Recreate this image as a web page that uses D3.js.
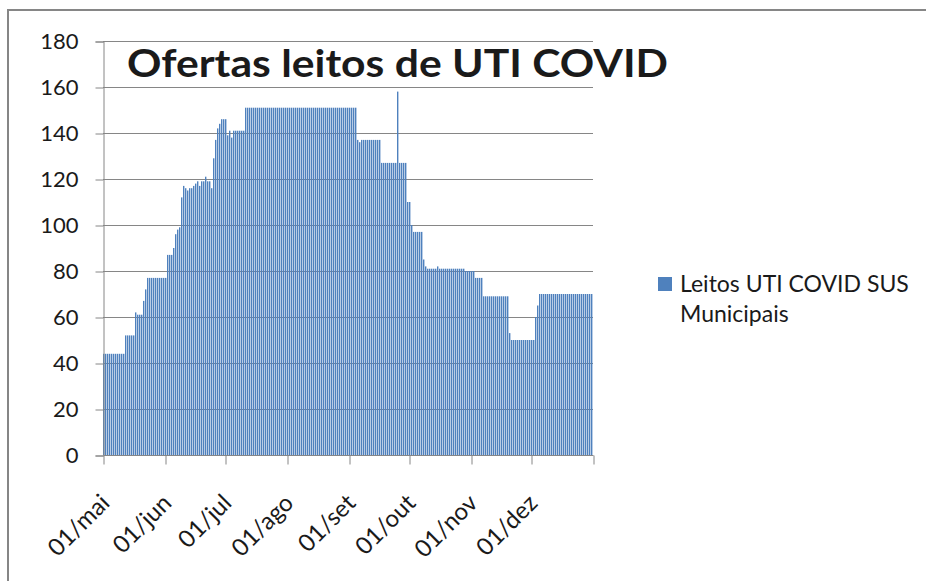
<!DOCTYPE html>
<html>
<head>
<meta charset="utf-8">
<script src="https://cdn.jsdelivr.net/npm/d3@7"></script>
<style>
  body { margin: 0; background: #fff; }
  text { font-family: Lato, "Open Sans", sans-serif; fill: #1a1a1a; }
</style>
</head>
<body>
<svg id="chart" width="926" height="581"></svg>
<script>
// leitos UTI COVID SUS municipais, um valor por dia de 01/mai a 31/dez
const leitos = [
  44, 44, 44, 44, 44, 44, 44, 44, 44, 44, 44, 52, 52, 52, 52,
  52, 62, 61, 61, 61, 67, 72, 77, 77, 77, 77, 77, 77, 77, 77,
  77, 77, 87, 87, 87, 90, 96, 98, 99, 112, 117, 116, 115, 116, 116,
  117, 118, 119, 117, 119, 119, 121, 119, 119, 116, 129, 137, 142, 144, 146,
  146, 146, 139, 141, 138, 141, 141, 141, 141, 141, 141, 151, 151, 151, 151,
  151, 151, 151, 151, 151, 151, 151, 151, 151, 151, 151, 151, 151, 151, 151,
  151, 151, 151, 151, 151, 151, 151, 151, 151, 151, 151, 151, 151, 151, 151,
  151, 151, 151, 151, 151, 151, 151, 151, 151, 151, 151, 151, 151, 151, 151,
  151, 151, 151, 151, 151, 151, 151, 137, 136, 137, 137, 137, 137, 137, 137,
  137, 137, 137, 137, 127, 127, 127, 127, 127, 127, 127, 127, 158, 127, 127,
  127, 127, 110, 110, 100, 97, 97, 97, 97, 97, 85, 82, 81, 81, 81,
  81, 81, 82, 81, 81, 81, 81, 81, 81, 81, 81, 81, 81, 81, 81,
  81, 80, 80, 80, 80, 80, 77, 77, 77, 77, 69, 69, 69, 69, 69,
  69, 69, 69, 69, 69, 69, 69, 69, 53, 50, 50, 50, 50, 50, 50,
  50, 50, 50, 50, 50, 50, 60, 65, 70, 70, 70, 70, 70, 70, 70,
  70, 70, 70, 70, 70, 70, 70, 70, 70, 70, 70, 70, 70, 70, 70,
  70, 70, 70, 70, 70
];
const inicio = new Date(Date.UTC(2020, 4, 1));
const fim = new Date(Date.UTC(2021, 0, 1));
const dias = d3.utcDay.range(inicio, fim);

const mesesTicks = d3.utcMonth.range(inicio, fim);
const mesesLabels = ["01/mai", "01/jun", "01/jul", "01/ago", "01/set", "01/out", "01/nov", "01/dez"];
const yTicks = [0, 20, 40, 60, 80, 100, 120, 140, 160, 180];

const titulo = "Ofertas leitos de UTI COVID";
const serieNome = ["Leitos UTI COVID SUS", "Municipais"];

const svg = d3.select("#chart");
const gray = "#868686";
const blue = "#4f81bd";

// moldura (so topo e esquerda aparecem)
svg.append("path")
  .attr("d", "M8,600 L8,10 L940,10")
  .attr("fill", "none").attr("stroke", gray).attr("stroke-width", 2);

const x = d3.scaleUtc().domain([inicio, fim]).range([103, 593]);
const y = d3.scaleLinear().domain([0, 180]).range([455, 41]);

// grade
svg.append("g")
  .selectAll("line")
  .data(yTicks.slice(1))
  .join("line")
  .attr("x1", 103).attr("x2", 593)
  .attr("y1", d => Math.round(y(d)) + 0.5).attr("y2", d => Math.round(y(d)) + 0.5)
  .attr("stroke", gray);

// barras
const bw = x(dias[1]) - x(dias[0]);
svg.append("g")
  .selectAll("rect")
  .data(leitos)
  .join("rect")
  .attr("x", (d, i) => x(dias[i]))
  .attr("y", d => y(d))
  .attr("width", bw * 0.7)
  .attr("height", d => y(0) - y(d))
  .attr("fill", blue);

// eixo Y
const yAxis = d3.axisLeft(y).tickValues(yTicks).tickSize(8).tickPadding(17);
const gy = svg.append("g").attr("transform", "translate(103.5,0.5)").call(yAxis);
gy.select(".domain").attr("stroke", gray);
gy.selectAll(".tick line").attr("stroke", gray);
gy.selectAll(".tick text").attr("font-size", 22).attr("font-family", "Lato").attr("fill", "#1a1a1a");

// eixo X
const xAxis = d3.axisBottom(x)
  .tickValues(mesesTicks.concat([fim]))
  .tickSize(9)
  .tickFormat((d, i) => mesesLabels[i] || "");
const gx = svg.append("g").attr("transform", "translate(0.5,455.5)").call(xAxis);
gx.select(".domain").attr("stroke", gray).attr("d", "M103,0H593");
gx.selectAll(".tick line").attr("stroke", gray);
gx.selectAll(".tick text")
  .attr("font-size", 24).attr("font-family", "Lato").attr("fill", "#1a1a1a")
  .attr("text-anchor", "end")
  .attr("dy", 0).attr("y", 0)
  .attr("transform", "translate(7,49) rotate(-45)");

// titulo
svg.append("text")
  .attr("x", 127).attr("y", 77)
  .attr("font-size", 38).attr("font-weight", "bold")
  .attr("textLength", 541).attr("lengthAdjust", "spacingAndGlyphs")
  .attr("fill", "#000")
  .text(titulo);

// legenda
const leg = svg.append("g");
leg.append("rect").attr("x", 658).attr("y", 277).attr("width", 14).attr("height", 14).attr("fill", blue);
leg.selectAll("text.l")
  .data(serieNome)
  .join("text")
  .attr("x", 680)
  .attr("y", (d, i) => 292 + i * 30)
  .attr("font-size", 23)
  .text(d => d);
</script>
</body>
</html>
